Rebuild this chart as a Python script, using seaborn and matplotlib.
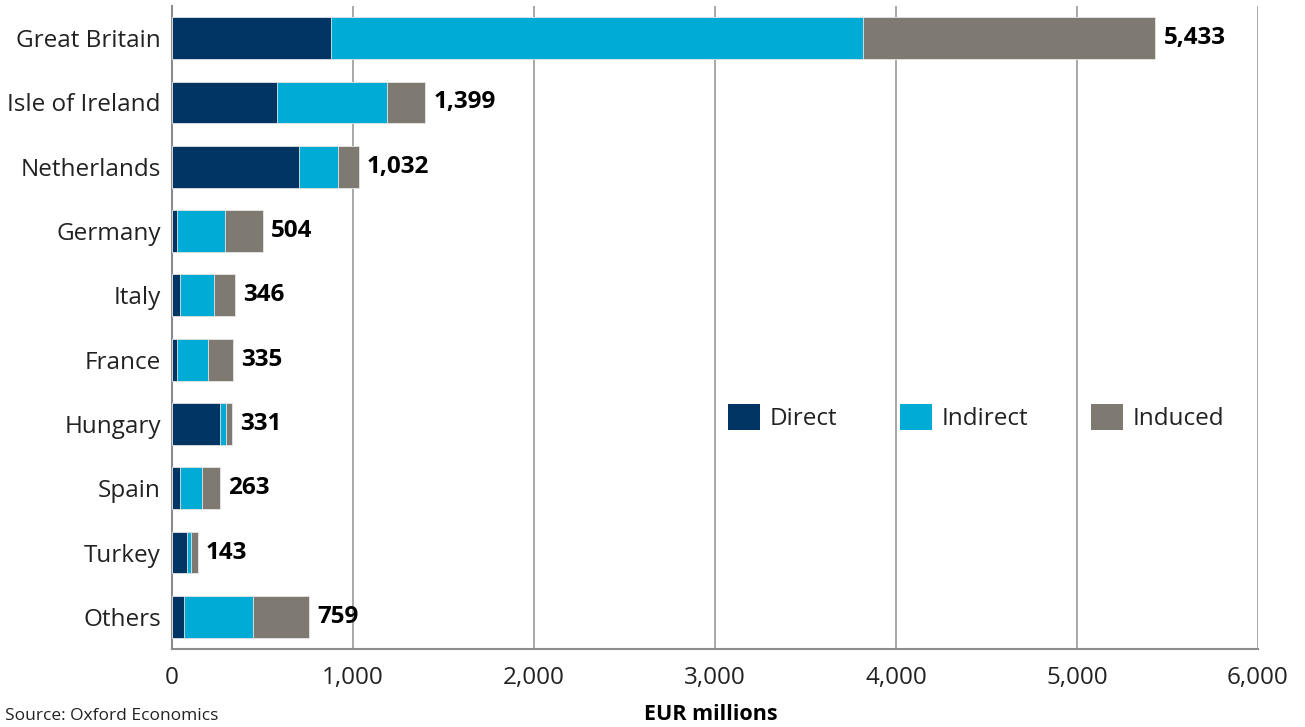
import matplotlib
matplotlib.use("Agg")
import matplotlib.pyplot as plt
import seaborn as sns
import pandas as pd
import numpy as np
from matplotlib.patches import Patch
from matplotlib.ticker import FixedLocator, FuncFormatter

countries = ["Great Britain", "Isle of Ireland", "Netherlands", "Germany", "Italy",
             "France", "Hungary", "Spain", "Turkey", "Others"]
direct = [878, 580, 702, 28, 44, 28, 265, 44, 83, 66]
indirect = [2940, 608, 215, 265, 188, 171, 33, 122, 22, 382]
totals = [5433, 1399, 1032, 504, 346, 335, 331, 263, 143, 759]
induced = [t - d - i for t, d, i in zip(totals, direct, indirect)]

series_names = ["Direct", "Indirect", "Induced"]
colors = {"Direct": "#003462", "Indirect": "#00ABD6", "Induced": "#7E7A72"}

df = pd.DataFrame({"country": countries, "Direct": direct,
                   "Indirect": indirect, "Induced": induced})
df["cum_direct"] = df["Direct"]
df["cum_indirect"] = df["Direct"] + df["Indirect"]
df["cum_total"] = df["cum_indirect"] + df["Induced"]

sns.set_style("white")
plt.rcParams["font.family"] = ["Open Sans", "DejaVu Sans"]

FS = 17.5
fig = plt.figure(figsize=(13.05, 7.27), dpi=100)
ax = fig.add_axes([172 / 1305, 1 - 649 / 727, (1258 - 172) / 1305, (649 - 6) / 727])

for col, name in [("cum_total", "Induced"), ("cum_indirect", "Indirect"), ("cum_direct", "Direct")]:
    sns.barplot(data=df, y="country", x=col, order=countries, color=colors[name],
                orient="h", width=0.65, ax=ax, edgecolor="#e6e6e6", linewidth=0.6,
                saturation=1, zorder=3)

for i, t in enumerate(totals):
    ax.text(t + 45, i, f"{t:,}", va="center", ha="left", fontsize=FS,
            fontweight="bold", color="#000000", zorder=4)

ax.set_xlim(0, 6000)
ax.set_ylim(len(countries) - 0.5, -0.5)
ax.set_xticks(np.arange(0, 6001, 1000))
ax.xaxis.set_major_formatter(FuncFormatter(lambda v, p: f"{int(v):,}"))
ax.grid(axis="x", color="#9a9a9a", linewidth=1.2, zorder=0)
ax.grid(axis="y", visible=False)
ax.set_axisbelow(True)
ax.set_xlabel("")
ax.set_ylabel("")

for s in ["top", "right"]:
    ax.spines[s].set_visible(False)
for s in ["left", "bottom"]:
    ax.spines[s].set_color("#8c8c8c")
    ax.spines[s].set_linewidth(1.5)

ax.tick_params(axis="y", which="major", length=0, labelsize=FS, pad=8, labelcolor="#222222")
ax.tick_params(axis="x", which="major", length=7, width=1.2, color="#8c8c8c",
               direction="out", labelsize=FS, pad=5, labelcolor="#222222")
ax.yaxis.set_minor_locator(FixedLocator(np.arange(-0.5, len(countries), 1.0)))
ax.tick_params(axis="y", which="minor", length=7, width=1.2, color="#8c8c8c", direction="out")

handles = [Patch(facecolor=colors[n], edgecolor="none", label=n) for n in series_names]
ax.legend(handles=handles, loc="center left", bbox_to_anchor=(0.492, 0.36), ncol=3,
          frameon=False, fontsize=FS, handlelength=1.3, handleheight=1.3,
          handletextpad=0.4, columnspacing=2.6, labelcolor="#222222")

fig.text(5 / 1305, 1 - 716 / 727, "Source: Oxford Economics", fontsize=12.5,
         va="center", ha="left", color="#222222")
fig.text(711 / 1305, 1 - 714 / 727, "EUR millions", fontsize=15.5, fontweight="bold",
         va="center", ha="center", color="#000000")

fig.savefig("out.png", dpi=100)
